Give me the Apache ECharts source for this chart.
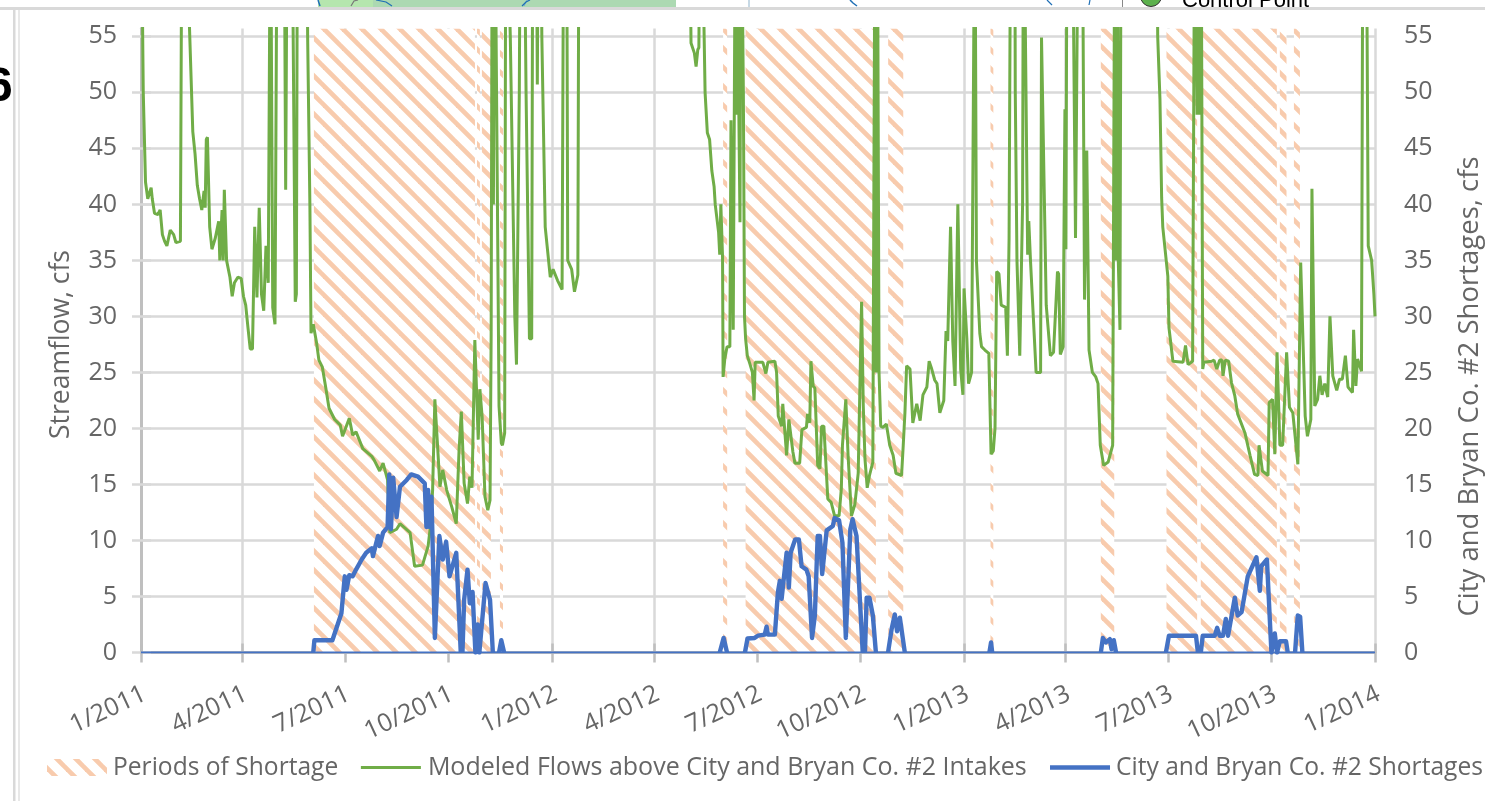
<!DOCTYPE html>
<html><head><meta charset="utf-8">
<style>html,body{margin:0;padding:0;background:#fff}#c{width:1485px;height:801px}</style>
<script src="https://cdn.jsdelivr.net/npm/echarts@6/dist/echarts.min.js"></script>
</head><body><div id="c"></div>
<script>
// All x values are days since 1 Jan 2011.
const tickDays = [0,90,181,273,365,456,547,639,731,821,912,1004,1096];
const tickLabels = ['1/2011','4/2011','7/2011','10/2011','1/2012','4/2012','7/2012','10/2012','1/2013','4/2013','7/2013','10/2013','1/2014'];
const yTicks = [0,5,10,15,20,25,30,35,40,45,50,55];
const yTop = 55.7;

const shortagePeriods = [[153.6,296.6],[298.4,301],[302.8,310.8],[318.8,321.5],[517,520.6],[537,652.7],[663.6,677],[754.5,757],[852.5,864.4],[910.8,938],[941.3,1008.8],[1011.5,1017.4],[1024,1029.3]];

const flowDays = [0,1,2,4,6,7,9,10,12,15,17,18,19,21,23,26,29,31,35,36,37,42,43,46,48,50,52,54,56,57,58,59,61,63,66,69,70,72,73,74,76,79,81,83,86,89,91,93,95,97,99,101,103,105,107,109,111,113,115,116,117,119,121,127,128.5,130,134,137,138,139,147,148,150,151,153,156,158,161,164,167,172,177,179,185,188,191,197,205,207,212,215,219,221,227,230,239,243,250,255,257,259,261,262.5,265.5,268,271.5,276,280,282.5,284.5,287,290,292,294,296.5,299.5,301,303,305.5,308,310,311,312,313,314,315,318,320,321,323,324,328,332,333.5,335,336,337,340,342,345,347,348,351,352,353,355,356,359,363.5,366,370,374,375.5,378,379,382.5,385,388,389,487,488.5,491.5,493,494.5,495.5,496.5,499,500,501,503,505,507,509,510,513,514,515,516.5,517,518.5,520.5,523,524,526,527.5,528,529,530,531,532,533,534,535,536,537,538.5,541,543,544.5,545.5,552.3,555,556.8,563,564.5,566,569,570,573.4,575.4,579,580.8,585,587,591,592,594,595,597,598.5,601,603,604.5,606.5,610,613,616,620,622,623,626,628,631,634,637,640,641.5,643,645,647,650,651.5,652,653,654,655.5,657,659,662,665,668,670.5,675.5,677,678.5,680,683,684,685.5,687,689,692,694.5,698,700,702,705,707,709.5,713,715,716.5,719,721,723,725.5,728,730,731,733.5,735,737.7,739,740.6,741.5,742,745,746.5,749.5,753,755,757,758.5,760,762,764,768,769.5,771,772.5,776,776.5,778,780.5,783,783.8,785,787.5,788.5,790,795,799,799.8,804,807.7,810.5,814,815,816.5,819,820.6,821.5,822.5,827,830,832.6,836,838,840,842,845,848,850,852,855,859,863,865,866,867,868,869.5,870.5,902,903,905,906.5,907.5,912,913,916.5,918,925.5,927.7,930,934,935.5,936.5,938,939,940,941.5,943,944,951,953,955.5,958,960,961,963,966,968.5,971.5,974,980.5,985,989,992,993,996,1001,1002,1005,1007,1009,1011.5,1014,1017.5,1018.5,1020,1023,1027.5,1030,1034,1036,1039,1040,1042.5,1045,1047,1049,1051.4,1054,1056,1058.5,1062,1064.5,1067,1069.7,1072,1076,1077,1079,1080.5,1084,1085,1086,1088,1089,1090,1093,1095,1096];
const flowCfs = [75,60,50,42,40.5,40.5,41.5,40.5,39.2,39.1,39.5,39.5,37.3,36.7,36.3,37.7,37.3,36.6,36.7,60,75,62,56,46.5,44.5,41.7,40.5,39.5,41.2,39.7,45.8,46,38,36,37,38.5,35,39.5,35,41.3,35,33.5,31.8,33,33.5,33.4,31.8,31,29,27.1,27.1,38,31.7,39.7,32,30.5,36.3,33,70,70,30.8,29.3,70,70,41.3,70,70,31.3,32,70,70,55,40,28.5,29.3,27.6,26.1,25.5,23.7,21.8,20.8,20.3,19.3,20.9,19.4,19.7,18.2,17.5,17.2,16.2,16.9,15.4,10.7,11,11.5,10.7,7.7,7.8,9.5,11.2,14.5,22.6,22.6,14.8,16.3,14.5,13,11.5,18.1,21.5,15.1,13.3,15.7,14.7,27.9,19,23.5,21,13.9,12.7,13.6,28.5,70,40,70,60,22,18.7,18.5,19.6,70,55,30,25.7,25.7,50,70,70,50,28,28,70,70,50.7,70,70,55,38,33.5,34.2,33.2,32.4,70,70,35,34.2,32.2,33.7,70,70,54.4,53.5,52.3,53.8,54,70,70,56,50,46.4,45.8,43,41.6,40,37.5,35.5,40,35.3,24.6,26.2,27.3,27.3,47.5,28.8,28.8,70,48,70,48,38.4,70,70,50,30,28,26.5,25.7,25,22.5,25.9,25.9,24.9,25.9,26,25,21.1,20.2,22.2,17.6,20.8,17.9,16.9,16.9,19.9,20.1,21.3,20.5,26,23.8,23.6,16.7,16.4,20.2,20.2,13.7,13.4,12.2,12.2,14.6,18.5,22.6,17.6,12.2,13.2,16,31.3,22,17.3,14.7,15.8,17,17,70,25,70,25,20.2,20.1,20.4,18.5,17.6,16,15.8,18.5,21.4,25.6,25.3,25.4,20.5,20.4,22.2,20.7,23,23.7,26,25.4,24.3,24,21.4,22.5,28.7,27.8,38,27.8,23.8,40,25.3,23,32.5,28,24,25,45,70,70,35,28.5,27.3,27,26.7,17.7,18,20,34,33.8,31,30.8,26.5,37,70,70,50,35,26.5,40,70,60,35.5,38.5,35,25,25,54.9,31,26.5,26.8,34,33.8,26.6,27.3,48.5,36,70,70,37,70,70,31.5,44.8,27,25,24.6,24,18.5,16.7,17,18.5,70,35,70,35,28.8,70,70,55,49.4,40.6,38,33.6,29,26,25.9,25.9,27.4,25.7,26,60,70,48,70,48,70,25.3,25.9,26,26.1,25.3,26.1,26.1,24.7,26.1,26,24.1,22.9,21.3,19.6,17.6,15.9,15.8,18.5,16.2,15.8,22.3,22.6,17.7,26.8,18.5,18.5,26.8,26.8,21.9,21.4,16.8,34.8,21.1,19.3,20.8,41.4,22,22.6,24.7,23,24,22.8,30,24.7,23.4,24.4,24.4,26.5,23.7,23.2,28.8,23.8,26.2,25.1,60,70,70,55,36.3,35,32,30];

const shortDays = [0,153,154,170,174,178,181,182.5,185,188,191,196,200,205,206,210.5,212,215,219,220.5,222,224,227,230,236,240,246,252,253.5,255,256,258,261,262.5,265,268,271,274,280,284,285.5,287,290,292,294.5,297,299,300.5,302,306,310,312.5,318,320,322.5,514,517.5,520.5,536.4,538.7,545,547.9,554,555.6,556.8,563,565.7,567.4,569,571,573.4,575.4,577,581,584.3,586.7,591,593,596,598.5,601,603,605,609,614.5,616,620,623,626,630,632,635.5,641,643,644.5,647,650,652.7,663.5,666.7,669.5,671.5,674,678.4,753.5,755,756,852.5,854.3,857,860.5,862,864,866,910.3,913,937,938.7,941.3,943,953.7,955.8,958,961,963.5,965.5,967,971.5,974,977.5,983,990.7,993.7,995,1000,1004,1007,1009,1011.5,1017,1018.5,1025,1027.4,1029.5,1031.5,1096];
const shortCfs = [0,0,1.1,1.1,2.3,3.5,6.8,5.6,6.9,6.8,7.4,8.3,8.9,9.3,8.6,10.4,9.5,10.7,11.2,15.9,11,15.6,12.1,14.8,15.4,15.9,15.7,15.1,11.2,14.5,11.2,13.9,1.3,1.3,10.4,8.3,9.9,6.8,8.9,0,0,4.7,7.4,4.4,5.4,0,2.5,0,1.7,6.2,4.7,0,0,1.1,0,0,1.3,0,0,1.25,1.3,1.5,1.6,2.3,1.6,1.6,5.4,6.4,4.8,6.7,8.9,5.8,8.9,10.1,10.1,7.7,7.4,6.8,1.3,3.3,10.4,10.4,7,10.9,11.3,12,11.8,9.8,1.3,11,11.9,10.4,0,0,4.9,4.9,3.3,0,0,2.1,3.4,1.9,3.1,0,0,0.9,0,0,1.3,0.9,1.2,0.3,1.1,0,0,1.5,1.5,0,0,1.5,1.5,2.2,1.5,1.5,3,1.5,1.5,4.9,3.3,3.6,6.8,8.5,5.5,7.7,8.3,0,1.7,0,1,1,0,0,3.3,3.2,0,0];

const legendNames = ['Periods of Shortage','Modeled Flows above City and Bryan Co. #2 Intakes','City and Bryan Co. #2 Shortages'];

// hatch tile: stripes along x - y = 10 (mod 19)
function hatch(){
  const s=19,c=document.createElement('canvas');c.width=s;c.height=s;
  const g=c.getContext('2d');g.fillStyle='#fff';g.fillRect(0,0,s,s);
  g.strokeStyle='#F8CBAD';g.lineWidth=4.7;g.lineCap='butt';
  for(let k=-2;k<=1;k++){g.beginPath();g.moveTo(k*s+10-4,-4);g.lineTo(k*s+10+s+4,s+4);g.stroke();}
  return c;
}
const hatchFill={image:hatch(),repeat:'repeat'};

const periodData=[[0,0]];
shortagePeriods.forEach(p=>{periodData.push([p[0],0],[p[0],yTop],[p[1],yTop],[p[1],0]);});
periodData.push([1096,0]);

// the thick line is broken across zero-shortage runs; a thin line draws the zero baseline
const shortData=[];
shortDays.forEach((d,i)=>{
  if(i>0 && shortCfs[i]===0 && shortCfs[i-1]===0) shortData.push([null,null]);
  shortData.push([d,shortCfs[i]]);
});

const grey='#BFBFBF',gl='#D9D9D9',txt='#666666',font='"Open Sans"';
const chart=echarts.init(document.getElementById('c'),null,{renderer:'canvas'});
const xBase={type:'value',min:0,max:1096,gridIndex:0,position:'bottom',
  axisTick:{show:true,customValues:tickDays,length:10,lineStyle:{color:grey,width:2.5}},
  axisLine:{show:true,onZero:false,lineStyle:{color:grey,width:2.5}}};
const blank='rgba(0,0,0,0)';
chart.setOption({
  animation:false,backgroundColor:'#fff',
  grid:{left:141,right:110,top:28.5,bottom:148.5,containLabel:false,outerBoundsMode:'none'},
  legend:{left:47,top:755,width:1700,itemGap:21,itemWidth:60,itemHeight:17,padding:0,
    textStyle:{fontFamily:font,fontSize:24.6,color:txt,padding:[0,0,0,1]},
    data:[{name:legendNames[0],icon:'rect',itemStyle:{color:hatchFill}},
      {name:legendNames[1],itemStyle:{color:blank,opacity:0},lineStyle:{color:'#70AD47',width:3.2},textStyle:{fontFamily:font,fontSize:25,color:txt,padding:[0,0,0,2]}},
      {name:legendNames[2],itemStyle:{color:blank,opacity:0},lineStyle:{color:'#4472C4',width:4.5}}]},
  xAxis:[Object.assign({},xBase,{
      splitLine:{show:true,lineStyle:{color:gl,width:2.5}},
      axisLabel:{customValues:tickDays,rotate:25,margin:42,fontFamily:font,fontSize:25,color:txt,padding:[0,-4,0,0],
        formatter:v=>tickLabels[tickDays.indexOf(v)]}}),
    Object.assign({},xBase,{axisLabel:{show:false},splitLine:{show:false},
      axisTick:{show:true,inside:true,customValues:tickDays,length:9,lineStyle:{color:grey,width:2.5}}})],
  yAxis:[
    {type:'value',min:0,max:yTop,position:'left',
     name:'Streamflow, cfs',nameLocation:'middle',nameGap:66,nameRotate:90,
     nameTextStyle:{fontFamily:font,fontSize:26.5,color:txt,padding:[0,8,0,0]},
     axisLine:{show:true,lineStyle:{color:grey,width:3}},
     axisTick:{show:true,customValues:yTicks,length:9,lineStyle:{color:gl,width:2.5}},
     splitLine:{show:true,lineStyle:{color:gl,width:2.5}},
     axisLabel:{customValues:yTicks,margin:24,fontFamily:font,fontSize:25,color:txt,padding:[6,0,0,0]}},
    {type:'value',min:0,max:yTop,position:'right',
     name:'City and Bryan Co. #2 Shortages, cfs',nameLocation:'middle',nameGap:81,nameRotate:90,
     nameTextStyle:{fontFamily:font,fontSize:27.5,color:txt,padding:[0,92,0,0]},
     axisLine:{show:true,lineStyle:{color:grey,width:3}},
     axisTick:{show:true,customValues:yTicks,length:10,lineStyle:{color:gl,width:2.5}},
     splitLine:{show:false},
     axisLabel:{customValues:yTicks,margin:29,fontFamily:font,fontSize:25,color:txt,padding:[6,0,0,0]}}
  ],
  series:[
    {name:legendNames[0],type:'line',data:periodData,showSymbol:false,symbol:'none',lineStyle:{width:0,opacity:0},
     areaStyle:{color:hatchFill,opacity:1},z:1,silent:true},
    {name:legendNames[1],type:'line',data:flowDays.map((d,i)=>[d,flowCfs[i]]),showSymbol:false,symbol:'none',
     lineStyle:{color:'#70AD47',width:3},itemStyle:{color:'#70AD47'},z:3},
    {name:legendNames[2],type:'line',yAxisIndex:1,data:shortData,showSymbol:false,symbol:'none',connectNulls:false,
     lineStyle:{color:'#4472C4',width:4.4,join:'round'},itemStyle:{color:'#4472C4'},z:4},
    {name:'baseline',type:'line',yAxisIndex:1,data:[[0,0],[1096,0]],showSymbol:false,symbol:'none',
     lineStyle:{color:'#4472C4',width:1.8},z:4,silent:true}
  ],
  graphic:[
    {type:'text',left:-14,top:64,style:{text:'6',font:'bold 48px "Liberation Sans"',fill:'#000'}},
    {type:'rect',shape:{x:13,y:9,width:20,height:120},style:{fill:'#fff'}},
    {type:'rect',shape:{x:318,y:0,width:55,height:7},style:{fill:'#B5E6AE'}},
    {type:'rect',shape:{x:373,y:0,width:303,height:7},style:{fill:'#ACD9B2'}},
    {type:'polyline',shape:{points:[[318,0],[320,6]]},style:{stroke:'#1F6FB5',lineWidth:1.5,fill:null}},
    {type:'polyline',shape:{points:[[351,6],[354,1],[358,0]]},style:{stroke:'#777',lineWidth:1.2,fill:null}},
    {type:'polyline',shape:{points:[[376,0],[386,2],[392,6]]},style:{stroke:'#1F6FB5',lineWidth:1.2,fill:null}},
    {type:'polyline',shape:{points:[[524,6],[527,0]]},style:{stroke:'#6AA8D8',lineWidth:1,fill:null}},
    {type:'polyline',shape:{points:[[522,6],[526,2],[530,0]]},style:{stroke:'#1F6FB5',lineWidth:1.2,fill:null}},
    {type:'rect',shape:{x:748.5,y:0,width:1,height:7},style:{fill:'#8FB4CC'}},
    {type:'polyline',shape:{points:[[850,0],[853,3],[857,6]]},style:{stroke:'#1F6FB5',lineWidth:1.5,fill:null}},
    {type:'polyline',shape:{points:[[1047,0],[1052,5]]},style:{stroke:'#1F6FB5',lineWidth:1.2,fill:null}},
    {type:'polyline',shape:{points:[[1089,5],[1090,0]]},style:{stroke:'#1F6FB5',lineWidth:1.2,fill:null}},
    {type:'rect',shape:{x:1122,y:0,width:1,height:7},style:{fill:'#888'}},
    {type:'circle',shape:{cx:1151,cy:-4,r:10.5},style:{fill:'#5CB14D',stroke:'#333',lineWidth:1}},
    {type:'text',left:1182,top:-10,style:{text:'Control Point',font:'22px "Liberation Sans"',fill:'#000'}},
    {type:'rect',shape:{x:0,y:7,width:1485,height:3},style:{fill:'#D9D9D9'}},
    {type:'rect',shape:{x:13,y:7,width:2.5,height:794},style:{fill:'#D9D9D9'}},
    {type:'rect',shape:{x:18,y:10,width:2,height:791},style:{fill:'#E8E8E8'}}
  ]
});
</script></body></html>
